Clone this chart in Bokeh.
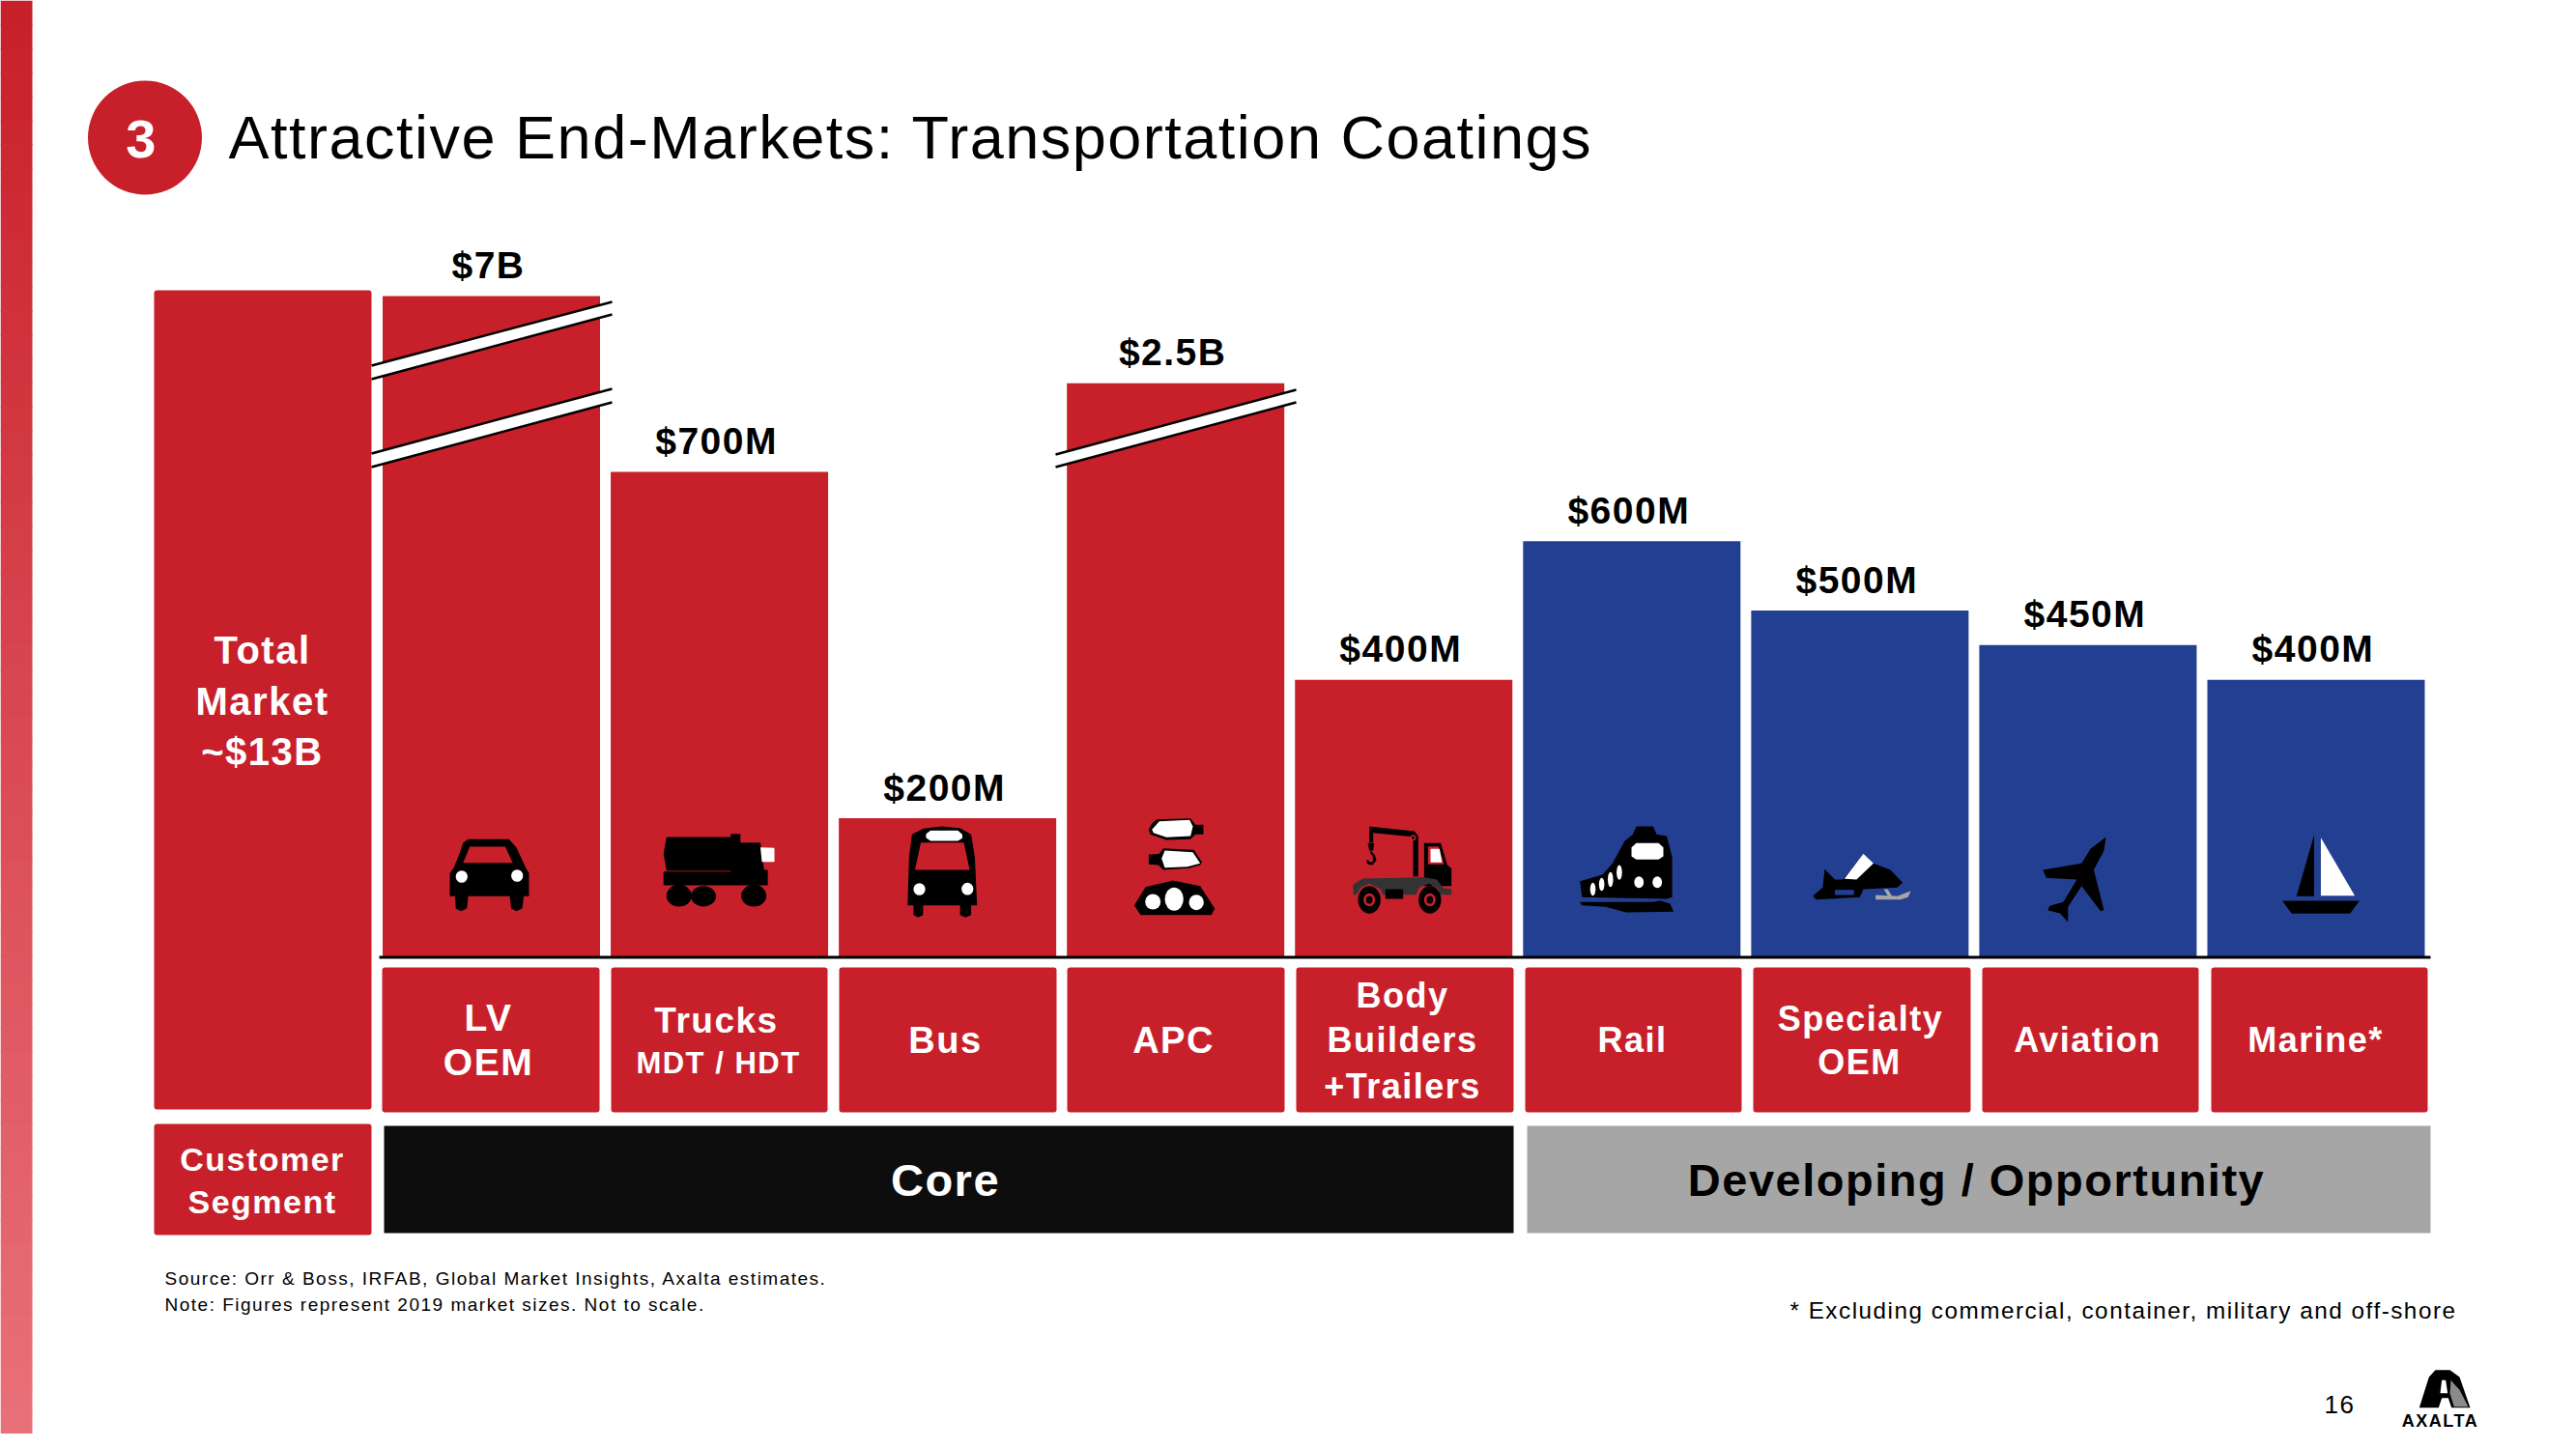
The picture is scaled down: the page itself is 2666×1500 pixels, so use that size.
from bokeh.plotting import figure
from bokeh.models import ColumnDataSource, Range1d
from bokeh.embed import file_html
from bokeh.resources import INLINE
from bokeh.core.properties import value

# ---------- data ----------
SEGMENTS = ["LV OEM", "Trucks", "Bus", "APC", "Body Builders +Trailers", "Rail", "Specialty OEM", "Aviation", "Marine*"]
VALUE_LABELS = ["$7B", "$700M", "$200M", "$2.5B", "$400M", "$600M", "$500M", "$450M", "$400M"]
# Heights as drawn, in $M on the chart's linear scale. $7B and $2.5B are shown with a broken bar.
DRAWN_HEIGHTS = [954, 700, 200, 828, 400, 600, 500, 450, 400]
BAR_GROUP = ["core", "core", "core", "core", "core", "dev", "dev", "dev", "dev"]

RED, BLUE, BLACK, GRAY = "#C8202A", "#233F91", "#000000", "#A6A6A6"
FONT = "Liberation Sans"
LS = 1.5  # letter spacing, px
W, H = 2650, 1484

p = figure(width=W, height=H, output_backend="svg", toolbar_location=None,
           x_range=Range1d(0, W), y_range=Range1d(H, 0),
           x_axis_location=None, y_axis_location=None, min_border=0,
           outline_line_color=None, background_fill_color="white", border_fill_color="white",
           stylesheets=[":host{letter-spacing:%gpx}" % LS])
p.grid.visible = False

# chart scales: bar index on x, $M on y
PX_PER_M, BASE = 0.717, 990
X0, PITCH = 508, 236.06
p.extra_x_ranges = {"idx": Range1d((0 - X0) / PITCH, (W - X0) / PITCH)}
p.extra_y_ranges = {"mkt": Range1d((BASE - H) / PX_PER_M, BASE / PX_PER_M)}

def txt(x, y, s, size, color="black", bold=False, align="center", font=FONT):
    shift = {"center": len(s) * LS / 2, "right": len(s) * LS, "left": 0}[align]
    p.text([x - shift], [y], text=[s], text_font=value(font), text_font_size=f"{size}px",
           text_color=color, text_align=align, text_baseline="middle",
           text_font_style="bold" if bold else "normal")

# ---------- left gradient strip ----------
N = 60
def mix(a, b, t):
    return "#%02x%02x%02x" % tuple(round(a[i] + (b[i] - a[i]) * t) for i in range(3))
for i in range(N):
    t = i / (N - 1)
    p.quad(left=0, right=33, top=H * i / N, bottom=H * (i + 1) / N + 1,
           fill_color=mix((200, 32, 42), (233, 112, 120), t), line_color=None)

# ---------- header ----------
p.circle([149.5], [142], radius=59, fill_color=RED, line_color=None)
txt(146, 143, "3", 56, "white", True)
txt(236, 141, "Attractive End-Markets: Transportation Coatings", 63, align="left")

# ---------- total panel ----------
p.quad(left=159, right=384, top=300, bottom=1148, fill_color=RED, line_color=None, border_radius=3)
for y, s in zip((672, 725, 777), ("Total", "Market", "~$13B")):
    txt(271, y, s, 40, "white", True)

# ---------- bars ----------
src = ColumnDataSource(dict(
    x=list(range(len(SEGMENTS))), top=DRAWN_HEIGHTS, seg=SEGMENTS, lab=VALUE_LABELS,
    color=[RED if g == "core" else BLUE for g in BAR_GROUP],
    xo=[-3 - len(s) * LS / 2 for s in VALUE_LABELS]))
p.vbar(x="x", top="top", bottom=0, width=225 / PITCH, fill_color="color", line_color=None,
       source=src, x_range_name="idx", y_range_name="mkt")
p.text(x="x", y="top", text="lab", source=src, x_range_name="idx", y_range_name="mkt",
       text_font=value(FONT), text_font_style="bold", text_font_size="39px", text_color="black",
       text_align="center", text_baseline="middle", x_offset="xo", y_offset=-32)

# ---------- axis breaks ----------
def brk(x1, x2, y1t, y2t, y1b, y2b):
    p.patch([x1, x2, x2, x1], [y1t, y2t, y2b, y1b], fill_color="white", line_color=None)
    p.line([x1, x2], [y1t, y2t], line_color="black", line_width=2.5)
    p.line([x1, x2], [y1b, y2b], line_color="black", line_width=2.5)
brk(384, 633, 378, 312, 392, 325)
brk(384, 633, 469, 402, 483, 416)
brk(1092, 1341, 470, 403, 483, 416)

# baseline
p.line([392, 2515], [990.5, 990.5], line_color="black", line_width=3)

# ---------- icons (shapes in crop coordinates) ----------
def conv(pts, x0, sx, y0=820, sy=3):
    return [x0 + a / sx for a, b in pts], [y0 + b / sy for a, b in pts]
def poly(pts, color, x0, sx, y0=820, sy=3):
    xs, ys = conv(pts, x0, sx, y0, sy)
    p.patch(xs, ys, fill_color=color, line_color=None)
def ell(cx, cy, w, h, color, x0, sx, y0=820, sy=3):
    p.ellipse([x0 + cx / sx], [y0 + cy / sy], width=w / sx, height=h / sy, fill_color=color, line_color=None)

A = (400, 1568 / 1200)   # first five bars
B = (1500, 1568 / 1100)  # last four bars
T = (1400, 3, 845, 3)    # tow truck
P = (1160, 3, 845, 3)    # APC
G = (2480, 3, 1405, 3)   # logo

# car
poly([(110,145),(165,145),(175,170),(188,235),(192,250),(192,322),(185,322),(183,360),(175,368),(168,360),(166,322),
      (110,322),(108,360),(100,368),(93,360),(92,322),(85,322),(85,250),(90,235),(98,190),(103,155)], BLACK, *A)
poly([(112,168),(160,168),(170,218),(103,218)], RED, *A)
ell(101, 261, 16, 38, "white", *A); ell(176, 258, 16, 38, "white", *A)
# truck
poly([(378,138),(466,138),(470,190),(468,243),(378,243),(374,190)], BLACK, *A)
poly([(465,128),(478,128),(478,155),(505,155),(510,240),(515,240),(515,288),(374,288),(374,245),(465,245)], BLACK, *A)
poly([(505,170),(524,172),(524,215),(507,215)], "white", *A)
ell(395, 320, 34, 68, BLACK, *A); ell(428, 322, 34, 64, BLACK, *A); ell(496, 320, 34, 68, BLACK, *A)
# bus
poly([(750,105),(775,110),(790,130),(795,200),(798,350),(790,350),(790,380),(782,388),(775,380),(775,350),(725,350),
      (725,380),(718,388),(712,380),(712,350),(704,350),(706,200),(710,130),(725,112)], BLACK, *A)
poly([(735,118),(772,118),(778,130),(778,142),(772,150),(735,150),(729,140),(729,128)], "white", *A)
poly([(722,155),(780,155),(788,240),(714,240)], RED, *A)
ell(720, 300, 16, 38, "white", *A); ell(785, 299, 16, 38, "white", *A)
# APC
poly([(110,8),(215,5),(230,25),(255,25),(255,55),(230,55),(215,70),(140,72),(90,55),(85,40),(95,20)], BLACK, *P)
poly([(118,14),(212,10),(222,30),(215,60),(140,64),(100,50),(95,40)], "white", *P)
poly([(130,98),(225,103),(250,140),(245,150),(210,160),(130,165),(115,150),(85,148),(85,118),(118,115)], BLACK, *P)
poly([(135,105),(222,110),(245,145),(205,155),(135,158),(125,130)], "white", *P)
poly([(160,198),(245,215),(290,285),(280,305),(60,305),(40,275),(75,218)], BLACK, *P)
ell(98, 264, 48, 48, "white", *P); ell(164, 256, 58, 72, "white", *P); ell(233, 266, 46, 48, "white", *P)
# tow truck
poly([(50,30),(190,45),(202,60),(202,185),(186,185),(186,62),(62,50),(62,80),(50,80)], BLACK, *T)
ell(186, 65, 18, 18, RED, *T); ell(186, 65, 9, 9, BLACK, *T)
poly([(45,82),(65,82),(62,105),(50,105)], BLACK, *T)
poly([(55,105),(68,120),(72,135),(60,150),(45,148),(40,135),(47,135),(52,142),(62,138),(60,122),(52,112)], BLACK, *T)
poly([(220,82),(272,82),(292,150),(305,160),(305,215),(220,215)], BLACK, *T)
poly([(232,92),(265,92),(282,148),(232,148)], RED, *T)
poly([(240,100),(268,100),(276,142),(240,142)], "white", *T)
poly([(0,210),(30,192),(220,188),(260,195),(280,222),(305,225),(305,242),(270,242),(262,222),(235,208),(205,220),
      (195,242),(92,242),(85,225),(50,208),(25,218),(10,242),(0,242)], "#333333", *T)
poly([(100,225),(155,225),(155,255),(100,255)], BLACK, *T)
for cx in (50, 238):
    ell(cx, 258, 70, 85, BLACK, *T); ell(cx, 258, 36, 40, RED, *T); ell(cx, 258, 20, 24, BLACK, *T)
# train
poly([(275,105),(300,105),(305,130),(320,135),(328,200),(328,325),(320,330),(195,325),(192,275),(225,255),(240,220),
      (258,150),(270,130)], BLACK, *B)
poly([(192,340),(300,340),(310,335),(325,345),(330,370),(260,372),(230,355),(195,350)], BLACK, *B)
poly([(275,157),(308,157),(315,170),(315,198),(308,208),(275,208),(268,198),(268,170)], "white", *B)
ell(279, 278, 14, 36, "white", *B); ell(306, 278, 14, 36, "white", *B)
for cx, cy, h in ((211, 300, 40), (224, 285, 40), (237, 270, 46), (250, 248, 46)):
    ell(cx, cy, 8, h, "white", *B)
# snowmobile
poly([(553,238),(568,270),(580,270),(610,190),(625,220),(650,240),(668,280),(660,295),(610,300),(605,325),(540,332),
      (536,320),(550,295)], BLACK, *B)
poly([(610,190),(625,220),(600,270),(582,268)], "white", *B)
poly([(568,302),(596,302),(596,318),(568,318)], BLUE, *B)
poly([(640,300),(646,300),(652,320),(660,322),(680,305),(676,325),(665,332),(628,332),(628,318),(646,320)], GRAY, *B)
# plane
poly([(968,138),(965,180),(950,240),(965,365),(960,368),(932,290),(912,355),(912,402),(900,375),(882,365),(885,352),
      (905,340),(925,270),(880,265),(875,240),(932,220),(945,175)], BLACK, *B)
# boat
poly([(1228,336),(1342,336),(1328,376),(1242,376)], BLACK, *B)
poly([(1275,132),(1275,322),(1249,322)], BLACK, *B)
poly([(1285,140),(1335,320),(1285,320)], "white", *B)

# ---------- segment boxes ----------
BOX_L = [395, 632, 868, 1104, 1341, 1578, 1814, 2051, 2288]
BOX_R = [620, 856, 1093, 1329, 1566, 1802, 2039, 2275, 2512]
p.quad(left=BOX_L, right=BOX_R, top=1001, bottom=1151, fill_color=RED, line_color=None, border_radius=3)
LABELS = [
    (505, 1053, "LV", 39), (505, 1099, "OEM", 39),
    (741, 1056, "Trucks", 37), (743, 1100, "MDT / HDT", 31),
    (978, 1076, "Bus", 38), (1214, 1076, "APC", 38),
    (1451, 1030, "Body", 36), (1451, 1076, "Builders", 36), (1451, 1124, "+Trailers", 36),
    (1689, 1076, "Rail", 36),
    (1925, 1054, "Specialty", 36), (1924, 1099, "OEM", 36),
    (2160, 1076, "Aviation", 36), (2396, 1076, "Marine*", 36),
]
for x, y, s, size in LABELS:
    txt(x, y, s, size, "white", True)

# ---------- bottom band ----------
p.quad(left=159, right=384, top=1163, bottom=1278, fill_color=RED, line_color=None, border_radius=3)
txt(271, 1199, "Customer", 34, "white", True)
txt(271, 1243, "Segment", 34, "white", True)
p.quad(left=397, right=1566, top=1165, bottom=1276, fill_color="#0D0D0D", line_color=None)
p.quad(left=1580, right=2515, top=1165, bottom=1276, fill_color=GRAY, line_color=None)
txt(978, 1221, "Core", 47, "white", True)
txt(2045, 1221, "Developing / Opportunity", 47, "black", True)

# ---------- notes ----------
txt(170, 1323, "Source: Orr & Boss, IRFAB, Global Market Insights, Axalta estimates.", 19, align="left")
txt(170, 1350, "Note: Figures represent 2019 market sizes. Not to scale.", 19, align="left")
txt(2542, 1356, "* Excluding commercial, container, military and off-shore", 24.3, align="right")
txt(2421, 1453, "16", 26)

# ---------- logo ----------
poly([(120,38),(165,38),(195,60),(228,155),(170,155),(160,125),(140,125),(130,155),(70,155),(100,60)], BLACK, *G)
poly([(140,70),(152,70),(158,110),(135,110)], "white", *G)
poly([(168,70),(195,100),(222,152),(178,152),(165,110)], "#8A8A8A", *G)
txt(2525, 1470, "AXALTA", 18, "black", True)

open("out.html", "w").write(file_html(p, INLINE))
